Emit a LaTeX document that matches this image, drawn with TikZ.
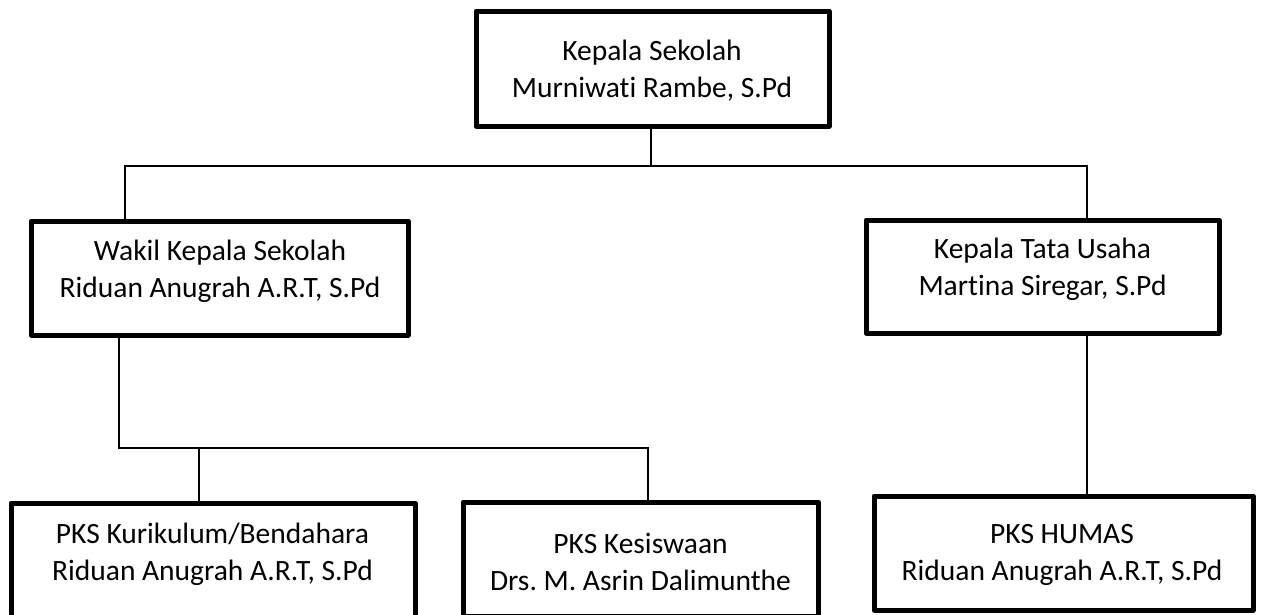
\documentclass[tikz,border=0pt]{standalone}
\usepackage{fontspec}
\setmainfont{Carlito}[Ligatures=NoCommon]
\frenchspacing
\begin{document}
\begin{tikzpicture}[x=1pt,y=-1pt,
  box/.style={draw=black, line width=5pt, line join=round, rectangle, inner sep=0pt, outer sep=0pt},
  lbl/.style={anchor=base, align=center, inner sep=0pt, font=\fontsize{29.5}{37}\selectfont},
  conn/.style={draw=black, line width=1.4pt}]
\useasboundingbox[fill=white] (0,0) rectangle (1265,614);
% boxes
\node[box, minimum width=353pt, minimum height=115pt] (top)   at (652.5,68.5) {};
\node[box, minimum width=377pt, minimum height=114pt] (wakil) at (219.5,278) {};
\node[box, minimum width=353pt, minimum height=113pt] (ktu)   at (1042.5,276.5) {};
\node[box, minimum width=404pt, minimum height=114pt] (kur)   at (213,560) {};
\node[box, minimum width=355pt, minimum height=114pt] (kes)   at (640.5,559) {};
\node[box, minimum width=379pt, minimum height=114pt] (hum)   at (1063.5,553) {};
% texts (anchor base = baseline of the second line)
\node[lbl] (ttop)   at (652,97)   {Kepala Sekolah\\Murniwati Rambe, S.Pd};
\node[lbl] (twakil) at (220,297)  {Wakil Kepala Sekolah\\Riduan Anugrah A.R.T, S.Pd};
\node[lbl] (tktu)   at (1042.5,295) {Kepala Tata Usaha\\Martina Siregar, S.Pd};
\node[lbl] (tkur)   at (212.5,580) {PKS Kurikulum/Bendahara\\Riduan Anugrah A.R.T, S.Pd};
\node[lbl] (tkes)   at (640.5,590) {PKS Kesiswaan\\Drs. M. Asrin Dalimunthe};
\node[lbl] (thum)   at (1062,580) {PKS HUMAS\\Riduan Anugrah A.R.T, S.Pd};
% junctions
\coordinate (jt) at (651,166);
\coordinate (jl) at (125,166);
\coordinate (jr) at (1087,166);
\coordinate (ja) at (119,448);
\coordinate (jk) at (199,448);
\coordinate (jb) at (648,448);
% connectors
\draw[conn] (jt |- top.south) -- (jt);
\draw[conn] (jl |- wakil.north) -- (jl) -- (jr) -- (jr |- ktu.north);
\draw[conn] (ja |- wakil.south) -- (ja) -- (jb) -- (jb |- kes.north);
\draw[conn] (jk) -- (jk |- kur.north);
\draw[conn] (jr |- ktu.south) -- (jr |- hum.north);
\end{tikzpicture}
\end{document}
